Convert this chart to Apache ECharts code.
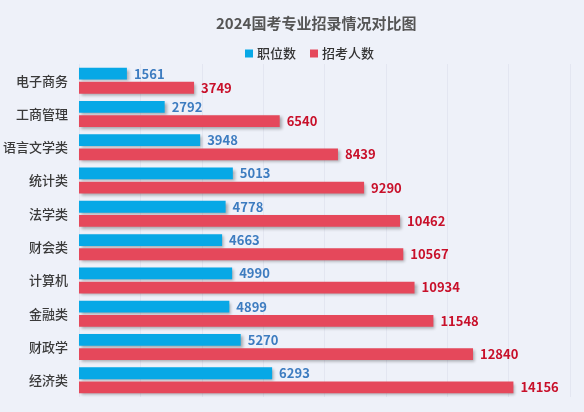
<!DOCTYPE html>
<html>
<head>
<meta charset="utf-8">
<script src="https://cdn.jsdelivr.net/npm/echarts@6/dist/echarts.min.js"></script>
<style>
    html, body {margin: 0; padding: 0; background: #eef1f9;}
    #main {width: 584px; height: 412px;}
</style>
</head>
<body>
<div id="main"></div>
<script>
let FONT = '"Noto Sans CJK SC", "Noto Sans", sans-serif';

// ------------------ data ------------------
let majors = ['电子商务', '工商管理', '语言文学类', '统计类', '法学类', '财会类', '计算机', '金融类', '财政学', '经济类'];
let posts = [1561, 2792, 3948, 5013, 4778, 4663, 4990, 4899, 5270, 6293];
let applicants = [3749, 6540, 8439, 9290, 10462, 10567, 10934, 11548, 12840, 14156];

let barShadow = {
    shadowColor: 'rgba(0,0,0,0.3)',
    shadowBlur: 3,
    shadowOffsetX: 2,
    shadowOffsetY: 2
};

let myChart = echarts.init(document.getElementById('main'));

let option = {
    backgroundColor: '#eef1f9',
    textStyle: {fontFamily: FONT},
    title: {
        text: '2024国考专业招录情况对比图',
        left: 211,
        top: 11,
        textStyle: {fontSize: 15, fontWeight: 'bold', color: '#555', fontFamily: FONT}
    },
    legend: {
        left: 240,
        top: 42,
        itemWidth: 8,
        itemHeight: 8,
        itemGap: 14,
        icon: 'rect',
        textStyle: {fontSize: 13, color: '#333', fontWeight: 500, padding: [0, 0, 0, -1]},
        data: ['职位数', '招考人数']
    },
    grid: {left: 75, right: 14, top: 64, bottom: 15},
    xAxis: {
        type: 'value',
        min: 0,
        max: 16000,
        interval: 2000,
        axisLabel: {show: false},
        axisLine: {show: false},
        axisTick: {show: false},
        splitLine: {lineStyle: {color: 'rgba(210,216,230,0.4)', width: 1}}
    },
    yAxis: {
        type: 'category',
        inverse: true,
        data: majors,
        axisLine: {show: false},
        axisTick: {show: false},
        axisLabel: {fontSize: 13, color: '#3a3a3a', fontWeight: 500, margin: 11}
    },
    series: [
        {
            name: '职位数',
            type: 'bar',
            data: posts,
            barGap: '20%',
            barCategoryGap: '22%',
            itemStyle: Object.assign({color: '#07a8e6'}, barShadow),
            label: {
                show: true,
                position: 'right',
                distance: 7,
                fontSize: 13,
                fontWeight: 'bold',
                color: '#3d7cc0'
            }
        },
        {
            name: '招考人数',
            type: 'bar',
            data: applicants,
            barGap: '20%',
            barCategoryGap: '22%',
            itemStyle: Object.assign({color: '#e5485b'}, barShadow),
            label: {
                show: true,
                position: 'right',
                distance: 7,
                fontSize: 13,
                fontWeight: 'bold',
                color: '#c8102a'
            }
        }
    ]
};

myChart.setOption(option);
</script>
</body>
</html>
